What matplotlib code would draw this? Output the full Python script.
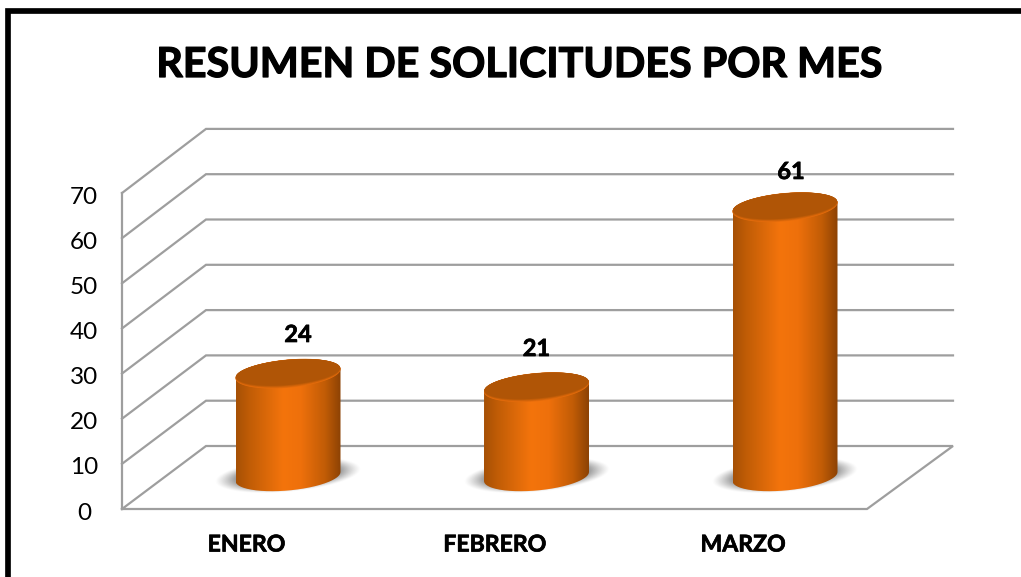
import numpy as np
import matplotlib
matplotlib.use("Agg")
import matplotlib.pyplot as plt
import matplotlib.patheffects as pe
from matplotlib.patches import PathPatch
from matplotlib.path import Path
from matplotlib.colors import LinearSegmentedColormap

plt.rcParams['font.family'] = ['Lato', 'DejaVu Sans']

categories = ["ENERO", "FEBRERO", "MARZO"]
values = [24, 21, 61]
ytick_values = [0, 10, 20, 30, 40, 50, 60, 70]
title = "RESUMEN DE SOLICITUDES POR MES"

W, H = 1021, 577
fig = plt.figure(figsize=(W/100, H/100), dpi=100, facecolor="white")
ax = fig.add_axes([0, 0, 1, 1])
ax.axis("off")

# the axes maps categories and values linearly onto the figure
X0, DX = 288.0, 248.5     # centre pixel of category 0, pixels per category
Y0, DY = 481.5, 4.5       # pixel of value 0 on the cylinders, pixels per unit
BASE = 476.5              # pixel of the centre of the cylinder bases
xlim = ((0 - X0)/DX, (W - X0)/DX)
ylim = ((Y0 - H)/DY, (Y0 - 0)/DY)
def dx(px): return (px - X0)/DX
def dy(py): return (Y0 - py)/DY

grid = "#9E9E9E"
front_l, back_l, back_r, front_r = 122, 206, 953, 867
for v in ytick_values:
    yf = 509 - v*4.514
    yb = 446 - v*4.53
    if v == 0:
        ax.plot([dx(front_l), dx(back_l), dx(back_r), dx(front_r), dx(front_l)],
                [dy(yf), dy(yb), dy(yb), dy(yf), dy(yf)], color=grid, lw=1.6, zorder=1, solid_joinstyle="miter")
    else:
        ax.plot([dx(front_l), dx(back_l), dx(back_r)], [dy(yf), dy(yb), dy(yb)],
                color=grid, lw=1.6, zorder=1, solid_joinstyle="miter")
    ax.text(dx(84), dy(yf + 4), str(v), ha="center", va="center", fontsize=17.5, color="black")
ax.plot([dx(front_l)]*2, [dy(509), dy(193)], color=grid, lw=1.6, zorder=1)

cmap_side = LinearSegmentedColormap.from_list("side", [
    (0.0, "#A65005"), (0.12, "#BF5C06"), (0.45, "#F4740C"), (0.62, "#EE700B"),
    (0.85, "#C15C06"), (1.0, "#8C4204")])

A, B, S = 52.5, 14.0, -0.086
t = np.linspace(0, 2*np.pi, 160)

def ell(cx, cy, a=A, b=B, tt=t):
    return cx + a*np.cos(tt), cy + a*np.cos(tt)*S + b*np.sin(tt)

label_offsets = [(10, -39), (0, -38.5), (6, -35.5)]
rim = np.array(matplotlib.colors.to_rgb("#E56C0B"))
face = np.array(matplotlib.colors.to_rgb("#B05506"))
heavy = [pe.withStroke(linewidth=0.5, foreground="black")]

for i, (cat, v) in enumerate(zip(categories, values)):
    cx = X0 + DX*i
    top = Y0 - DY*v

    # soft shadow on the floor
    sx = np.linspace(cx - 85, cx + 85, 260)
    sy = np.linspace(BASE - 26, BASE + 26, 90)
    gx, gy = np.meshgrid(sx, sy)
    r = np.sqrt(((gx - cx)/73)**2 + ((gy - (BASE - 1) - (gx - cx)*S)/17)**2)
    alpha = np.clip((1.0 - r)/0.3, 0, 1)**1.2*0.7
    rgba = np.zeros(gx.shape + (4,))
    rgba[..., :3] = 0.40
    rgba[..., 3] = alpha
    ax.imshow(rgba, extent=(dx(sx[0]), dx(sx[-1]), dy(sy[-1]), dy(sy[0])),
              origin="upper", aspect="auto", zorder=2, interpolation="bilinear")

    # side of the cylinder
    t_lo = np.linspace(0, np.pi, 80)
    t_up = np.linspace(np.pi, 2*np.pi, 80)
    bx, by = ell(cx, BASE, tt=t_lo)
    tx, ty = ell(cx, top, tt=t_up)
    px = np.r_[bx, tx]; py = np.r_[by, ty]
    patch = PathPatch(Path(np.c_[dx(px), dy(py)]), fc="none", ec="none")
    ax.add_patch(patch)
    grad = np.linspace(0, 1, 256)[None, :]
    im = ax.imshow(grad, cmap=cmap_side, extent=(dx(cx - A), dx(cx + A), dy(BASE + 20), dy(top - 20)),
                   aspect="auto", zorder=3, interpolation="bilinear")
    im.set_clip_path(patch)

    # top face, its lower edge blending into a lighter rim
    for k, f in enumerate(np.linspace(0, 1, 5)):
        ex, ey = ell(cx, top + 0.3 - 0.35*k, a=A - 0.1*k, b=B - 0.35*k)
        ax.fill(dx(ex), dy(ey), color=tuple(rim*(1 - f) + face*f), zorder=4 + k*0.1, lw=0)

    # labels
    ox, oy = label_offsets[i]
    ax.text(dx(cx + ox), dy(top + oy), str(v), ha="center", va="center",
            fontsize=17, fontweight="bold", color="black", zorder=6, path_effects=heavy)
    ax.text(dx(246.5 + 248.3*i), dy(545), cat, ha="center", va="center",
            fontsize=16.6, fontweight="bold", color="black", path_effects=heavy)

ax.text(dx(520), dy(65.5), title, ha="center", va="center", fontsize=29.7, fontweight="bold", color="black",
        path_effects=[pe.withStroke(linewidth=0.9, foreground="black")])

# only the top and left sides of the black frame are inside the picture
ax.plot([dx(8), dx(8), dx(W)], [dy(H), dy(10.5), dy(10.5)], color="black", lw=4.1,
        solid_joinstyle="miter", solid_capstyle="butt", zorder=7)

ax.set_xlim(*xlim)
ax.set_ylim(*ylim)
fig.savefig("out.png", dpi=100)
